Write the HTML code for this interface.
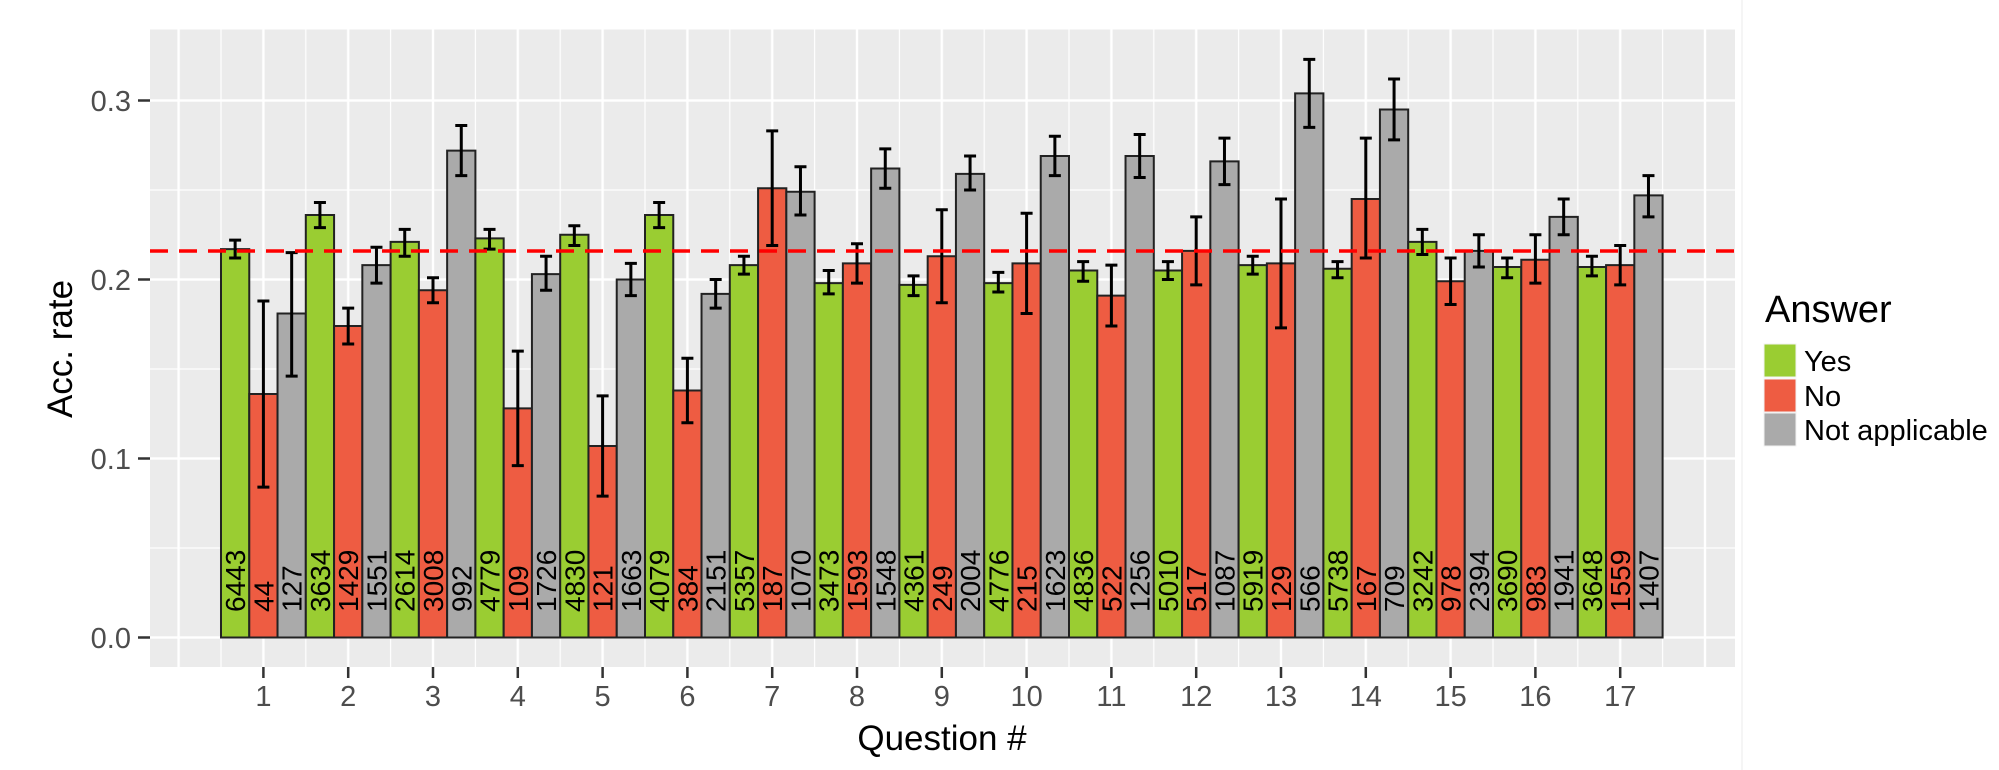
<!DOCTYPE html>
<html><head><meta charset="utf-8"><style>
body{margin:0;background:#fff}
svg{display:block;font-family:"Liberation Sans",Arial,sans-serif}
rect.b{stroke:#222;stroke-width:2;vector-effect:non-scaling-stroke}
.y{fill:#9acd32}.n{fill:#ee5c42}.a{fill:#aaaaaa}
path.e{fill:none;stroke:#000;stroke-width:3;vector-effect:non-scaling-stroke}
text.c{font-size:28px;fill:#000}
</style></head><body>
<svg width="1999" height="770" viewBox="0 0 1999 770">
<defs>
<pattern id="vg" patternUnits="userSpaceOnUse" x="136.2" y="0" width="84.8" height="770">
<rect x="41.2" y="0" width="2.4" height="770" fill="#fff"/>
<rect x="-0.6" y="0" width="1.2" height="770" fill="#fff"/>
<rect x="84.2" y="0" width="1.2" height="770" fill="#fff"/>
</pattern>
<pattern id="hg" patternUnits="userSpaceOnUse" x="0" y="11" width="1999" height="179">
<rect x="0" y="88.3" width="1999" height="2.4" fill="#fff"/>
<rect x="0" y="-0.6" width="1999" height="1.2" fill="#fff"/>
<rect x="0" y="178.4" width="1999" height="1.2" fill="#fff"/>
</pattern>
</defs>
<rect x="150" y="29.5" width="1585" height="637.5" fill="#ebebeb"/>
<rect x="150" y="29.5" width="1585" height="637.5" fill="url(#vg)"/>
<rect x="150" y="29.5" width="1585" height="637.5" fill="url(#hg)"/>
<line x1="1742" y1="0" x2="1742" y2="770" stroke="#f2f2f2" stroke-width="1.5"/>

<g transform="translate(263.4,637.5)"><g transform="scale(1,-1790)">
<rect class="b y" x="-42.4" width="28.27" height=".217"/><rect class="b n" x="-14.13" width="28.27" height=".136"/><rect class="b a" x="14.13" width="28.27" height=".181"/>
<path class="e" d="M-28.27 .212V.222M-34.27 .212h12M-34.27 .222h12M0 .084V.188M-6 .084h12M-6 .188h12M28.27 .146V.215M22.27 .146h12M22.27 .215h12"/></g>
<text class="c" transform="translate(-18.3,-25.5) rotate(-90)">6443</text><text class="c" transform="translate(10,-25.5) rotate(-90)">44</text><text class="c" transform="translate(38.3,-25.5) rotate(-90)">127</text></g>

<g transform="translate(348.2,637.5)"><g transform="scale(1,-1790)">
<rect class="b y" x="-42.4" width="28.27" height=".236"/><rect class="b n" x="-14.13" width="28.27" height=".174"/><rect class="b a" x="14.13" width="28.27" height=".208"/>
<path class="e" d="M-28.27 .229V.243M-34.27 .229h12M-34.27 .243h12M0 .164V.184M-6 .164h12M-6 .184h12M28.27 .198V.218M22.27 .198h12M22.27 .218h12"/></g>
<text class="c" transform="translate(-18.3,-25.5) rotate(-90)">3634</text><text class="c" transform="translate(10,-25.5) rotate(-90)">1429</text><text class="c" transform="translate(38.3,-25.5) rotate(-90)">1551</text></g>

<g transform="translate(433,637.5)"><g transform="scale(1,-1790)">
<rect class="b y" x="-42.4" width="28.27" height=".221"/><rect class="b n" x="-14.13" width="28.27" height=".194"/><rect class="b a" x="14.13" width="28.27" height=".272"/>
<path class="e" d="M-28.27 .213V.228M-34.27 .213h12M-34.27 .228h12M0 .187V.201M-6 .187h12M-6 .201h12M28.27 .258V.286M22.27 .258h12M22.27 .286h12"/></g>
<text class="c" transform="translate(-18.3,-25.5) rotate(-90)">2614</text><text class="c" transform="translate(10,-25.5) rotate(-90)">3008</text><text class="c" transform="translate(38.3,-25.5) rotate(-90)">992</text></g>

<g transform="translate(517.8,637.5)"><g transform="scale(1,-1790)">
<rect class="b y" x="-42.4" width="28.27" height=".223"/><rect class="b n" x="-14.13" width="28.27" height=".128"/><rect class="b a" x="14.13" width="28.27" height=".203"/>
<path class="e" d="M-28.27 .217V.228M-34.27 .217h12M-34.27 .228h12M0 .096V.160M-6 .096h12M-6 .160h12M28.27 .194V.213M22.27 .194h12M22.27 .213h12"/></g>
<text class="c" transform="translate(-18.3,-25.5) rotate(-90)">4779</text><text class="c" transform="translate(10,-25.5) rotate(-90)">109</text><text class="c" transform="translate(38.3,-25.5) rotate(-90)">1726</text></g>

<g transform="translate(602.6,637.5)"><g transform="scale(1,-1790)">
<rect class="b y" x="-42.4" width="28.27" height=".225"/><rect class="b n" x="-14.13" width="28.27" height=".107"/><rect class="b a" x="14.13" width="28.27" height=".200"/>
<path class="e" d="M-28.27 .219V.230M-34.27 .219h12M-34.27 .230h12M0 .079V.135M-6 .079h12M-6 .135h12M28.27 .191V.209M22.27 .191h12M22.27 .209h12"/></g>
<text class="c" transform="translate(-18.3,-25.5) rotate(-90)">4830</text><text class="c" transform="translate(10,-25.5) rotate(-90)">121</text><text class="c" transform="translate(38.3,-25.5) rotate(-90)">1663</text></g>

<g transform="translate(687.4,637.5)"><g transform="scale(1,-1790)">
<rect class="b y" x="-42.4" width="28.27" height=".236"/><rect class="b n" x="-14.13" width="28.27" height=".138"/><rect class="b a" x="14.13" width="28.27" height=".192"/>
<path class="e" d="M-28.27 .229V.243M-34.27 .229h12M-34.27 .243h12M0 .120V.156M-6 .120h12M-6 .156h12M28.27 .184V.200M22.27 .184h12M22.27 .200h12"/></g>
<text class="c" transform="translate(-18.3,-25.5) rotate(-90)">4079</text><text class="c" transform="translate(10,-25.5) rotate(-90)">384</text><text class="c" transform="translate(38.3,-25.5) rotate(-90)">2151</text></g>

<g transform="translate(772.2,637.5)"><g transform="scale(1,-1790)">
<rect class="b y" x="-42.4" width="28.27" height=".208"/><rect class="b n" x="-14.13" width="28.27" height=".251"/><rect class="b a" x="14.13" width="28.27" height=".249"/>
<path class="e" d="M-28.27 .203V.213M-34.27 .203h12M-34.27 .213h12M0 .219V.283M-6 .219h12M-6 .283h12M28.27 .236V.263M22.27 .236h12M22.27 .263h12"/></g>
<text class="c" transform="translate(-18.3,-25.5) rotate(-90)">5357</text><text class="c" transform="translate(10,-25.5) rotate(-90)">187</text><text class="c" transform="translate(38.3,-25.5) rotate(-90)">1070</text></g>

<g transform="translate(857,637.5)"><g transform="scale(1,-1790)">
<rect class="b y" x="-42.4" width="28.27" height=".198"/><rect class="b n" x="-14.13" width="28.27" height=".209"/><rect class="b a" x="14.13" width="28.27" height=".262"/>
<path class="e" d="M-28.27 .192V.205M-34.27 .192h12M-34.27 .205h12M0 .198V.220M-6 .198h12M-6 .220h12M28.27 .251V.273M22.27 .251h12M22.27 .273h12"/></g>
<text class="c" transform="translate(-18.3,-25.5) rotate(-90)">3473</text><text class="c" transform="translate(10,-25.5) rotate(-90)">1593</text><text class="c" transform="translate(38.3,-25.5) rotate(-90)">1548</text></g>

<g transform="translate(941.8,637.5)"><g transform="scale(1,-1790)">
<rect class="b y" x="-42.4" width="28.27" height=".197"/><rect class="b n" x="-14.13" width="28.27" height=".213"/><rect class="b a" x="14.13" width="28.27" height=".259"/>
<path class="e" d="M-28.27 .191V.202M-34.27 .191h12M-34.27 .202h12M0 .187V.239M-6 .187h12M-6 .239h12M28.27 .250V.269M22.27 .250h12M22.27 .269h12"/></g>
<text class="c" transform="translate(-18.3,-25.5) rotate(-90)">4361</text><text class="c" transform="translate(10,-25.5) rotate(-90)">249</text><text class="c" transform="translate(38.3,-25.5) rotate(-90)">2004</text></g>

<g transform="translate(1026.6,637.5)"><g transform="scale(1,-1790)">
<rect class="b y" x="-42.4" width="28.27" height=".198"/><rect class="b n" x="-14.13" width="28.27" height=".209"/><rect class="b a" x="14.13" width="28.27" height=".269"/>
<path class="e" d="M-28.27 .193V.204M-34.27 .193h12M-34.27 .204h12M0 .181V.237M-6 .181h12M-6 .237h12M28.27 .258V.280M22.27 .258h12M22.27 .280h12"/></g>
<text class="c" transform="translate(-18.3,-25.5) rotate(-90)">4776</text><text class="c" transform="translate(10,-25.5) rotate(-90)">215</text><text class="c" transform="translate(38.3,-25.5) rotate(-90)">1623</text></g>

<g transform="translate(1111.4,637.5)"><g transform="scale(1,-1790)">
<rect class="b y" x="-42.4" width="28.27" height=".205"/><rect class="b n" x="-14.13" width="28.27" height=".191"/><rect class="b a" x="14.13" width="28.27" height=".269"/>
<path class="e" d="M-28.27 .199V.210M-34.27 .199h12M-34.27 .210h12M0 .174V.208M-6 .174h12M-6 .208h12M28.27 .257V.281M22.27 .257h12M22.27 .281h12"/></g>
<text class="c" transform="translate(-18.3,-25.5) rotate(-90)">4836</text><text class="c" transform="translate(10,-25.5) rotate(-90)">522</text><text class="c" transform="translate(38.3,-25.5) rotate(-90)">1256</text></g>

<g transform="translate(1196.2,637.5)"><g transform="scale(1,-1790)">
<rect class="b y" x="-42.4" width="28.27" height=".205"/><rect class="b n" x="-14.13" width="28.27" height=".216"/><rect class="b a" x="14.13" width="28.27" height=".266"/>
<path class="e" d="M-28.27 .200V.210M-34.27 .200h12M-34.27 .210h12M0 .197V.235M-6 .197h12M-6 .235h12M28.27 .253V.279M22.27 .253h12M22.27 .279h12"/></g>
<text class="c" transform="translate(-18.3,-25.5) rotate(-90)">5010</text><text class="c" transform="translate(10,-25.5) rotate(-90)">517</text><text class="c" transform="translate(38.3,-25.5) rotate(-90)">1087</text></g>

<g transform="translate(1281,637.5)"><g transform="scale(1,-1790)">
<rect class="b y" x="-42.4" width="28.27" height=".208"/><rect class="b n" x="-14.13" width="28.27" height=".209"/><rect class="b a" x="14.13" width="28.27" height=".304"/>
<path class="e" d="M-28.27 .203V.213M-34.27 .203h12M-34.27 .213h12M0 .173V.245M-6 .173h12M-6 .245h12M28.27 .285V.323M22.27 .285h12M22.27 .323h12"/></g>
<text class="c" transform="translate(-18.3,-25.5) rotate(-90)">5919</text><text class="c" transform="translate(10,-25.5) rotate(-90)">129</text><text class="c" transform="translate(38.3,-25.5) rotate(-90)">566</text></g>

<g transform="translate(1365.8,637.5)"><g transform="scale(1,-1790)">
<rect class="b y" x="-42.4" width="28.27" height=".206"/><rect class="b n" x="-14.13" width="28.27" height=".245"/><rect class="b a" x="14.13" width="28.27" height=".295"/>
<path class="e" d="M-28.27 .201V.210M-34.27 .201h12M-34.27 .210h12M0 .212V.279M-6 .212h12M-6 .279h12M28.27 .278V.312M22.27 .278h12M22.27 .312h12"/></g>
<text class="c" transform="translate(-18.3,-25.5) rotate(-90)">5738</text><text class="c" transform="translate(10,-25.5) rotate(-90)">167</text><text class="c" transform="translate(38.3,-25.5) rotate(-90)">709</text></g>

<g transform="translate(1450.6,637.5)"><g transform="scale(1,-1790)">
<rect class="b y" x="-42.4" width="28.27" height=".221"/><rect class="b n" x="-14.13" width="28.27" height=".199"/><rect class="b a" x="14.13" width="28.27" height=".216"/>
<path class="e" d="M-28.27 .214V.228M-34.27 .214h12M-34.27 .228h12M0 .186V.212M-6 .186h12M-6 .212h12M28.27 .207V.225M22.27 .207h12M22.27 .225h12"/></g>
<text class="c" transform="translate(-18.3,-25.5) rotate(-90)">3242</text><text class="c" transform="translate(10,-25.5) rotate(-90)">978</text><text class="c" transform="translate(38.3,-25.5) rotate(-90)">2394</text></g>

<g transform="translate(1535.4,637.5)"><g transform="scale(1,-1790)">
<rect class="b y" x="-42.4" width="28.27" height=".207"/><rect class="b n" x="-14.13" width="28.27" height=".211"/><rect class="b a" x="14.13" width="28.27" height=".235"/>
<path class="e" d="M-28.27 .201V.212M-34.27 .201h12M-34.27 .212h12M0 .198V.225M-6 .198h12M-6 .225h12M28.27 .225V.245M22.27 .225h12M22.27 .245h12"/></g>
<text class="c" transform="translate(-18.3,-25.5) rotate(-90)">3690</text><text class="c" transform="translate(10,-25.5) rotate(-90)">983</text><text class="c" transform="translate(38.3,-25.5) rotate(-90)">1941</text></g>

<g transform="translate(1620.2,637.5)"><g transform="scale(1,-1790)">
<rect class="b y" x="-42.4" width="28.27" height=".207"/><rect class="b n" x="-14.13" width="28.27" height=".208"/><rect class="b a" x="14.13" width="28.27" height=".247"/>
<path class="e" d="M-28.27 .202V.213M-34.27 .202h12M-34.27 .213h12M0 .197V.219M-6 .197h12M-6 .219h12M28.27 .235V.258M22.27 .235h12M22.27 .258h12"/></g>
<text class="c" transform="translate(-18.3,-25.5) rotate(-90)">3648</text><text class="c" transform="translate(10,-25.5) rotate(-90)">1559</text><text class="c" transform="translate(38.3,-25.5) rotate(-90)">1407</text></g>

<line x1="150" y1="251" x2="1735" y2="251" stroke="#ff0000" stroke-width="3.5" stroke-dasharray="18,11"/>

<g stroke="#333" stroke-width="2.5">
<line x1="138" x2="150" y1="637.5" y2="637.5"/><line x1="138" x2="150" y1="458.5" y2="458.5"/><line x1="138" x2="150" y1="279.5" y2="279.5"/><line x1="138" x2="150" y1="100.5" y2="100.5"/>
<path d="M263.4 667v11M348.2 667v11M433 667v11M517.8 667v11M602.6 667v11M687.4 667v11M772.2 667v11M857 667v11M941.8 667v11M1026.6 667v11M1111.4 667v11M1196.2 667v11M1281 667v11M1365.8 667v11M1450.6 667v11M1535.4 667v11M1620.2 667v11"/>
</g>
<g font-size="29" fill="#4d4d4d" text-anchor="end">
<text x="131" y="648">0.0</text><text x="131" y="469">0.1</text><text x="131" y="290">0.2</text><text x="131" y="111">0.3</text>
</g>
<g font-size="29" fill="#4d4d4d" text-anchor="middle">
<text x="263.4" y="706">1</text><text x="348.2" y="706">2</text><text x="433" y="706">3</text><text x="517.8" y="706">4</text><text x="602.6" y="706">5</text><text x="687.4" y="706">6</text><text x="772.2" y="706">7</text><text x="857" y="706">8</text><text x="941.8" y="706">9</text><text x="1026.6" y="706">10</text><text x="1111.4" y="706">11</text><text x="1196.2" y="706">12</text><text x="1281" y="706">13</text><text x="1365.8" y="706">14</text><text x="1450.6" y="706">15</text><text x="1535.4" y="706">16</text><text x="1620.2" y="706">17</text>
</g>
<text x="942" y="750" font-size="35" text-anchor="middle" fill="#000">Question #</text>
<text transform="translate(72,349) rotate(-90)" font-size="35" text-anchor="middle" fill="#000">Acc. rate</text>

<text x="1765" y="322" font-size="38" fill="#000">Answer</text>
<rect x="1764" y="344" width="32" height="33" fill="#9acd32" stroke="#f2f2f2" stroke-width="1"/>
<rect x="1764" y="379" width="32" height="33" fill="#ee5c42" stroke="#f2f2f2" stroke-width="1"/>
<rect x="1764" y="413" width="32" height="33" fill="#aaaaaa" stroke="#f2f2f2" stroke-width="1"/>
<g font-size="29" fill="#000">
<text x="1804" y="371">Yes</text><text x="1804" y="406">No</text><text x="1804" y="440">Not applicable</text>
</g>
</svg>
</body></html>
